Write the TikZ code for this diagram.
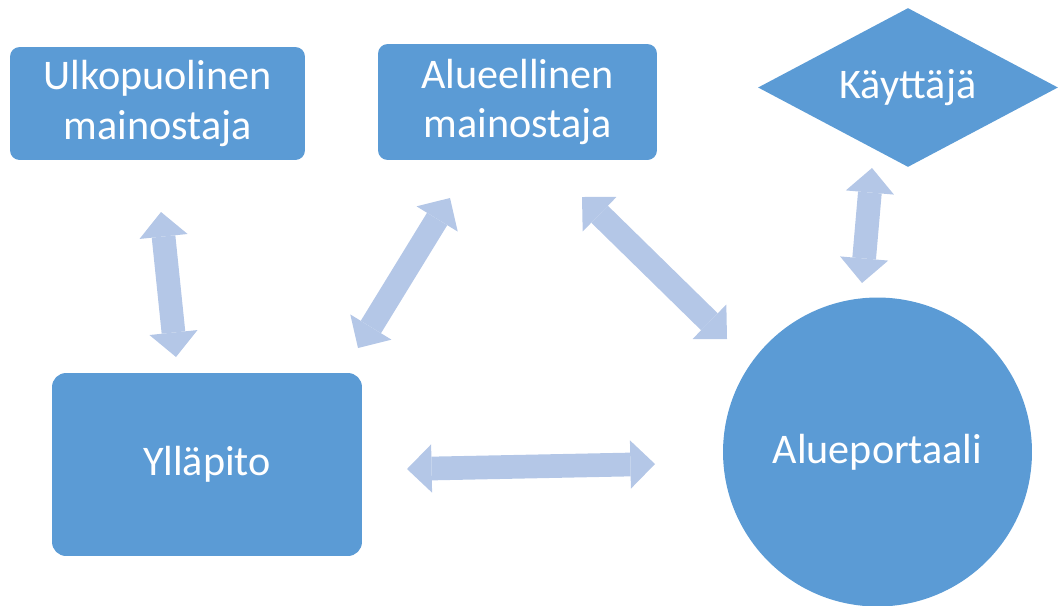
\documentclass[tikz,border=0pt]{standalone}
\usepackage{fontspec}
\setmainfont{Carlito}
\usetikzlibrary{arrows.meta}
\usetikzlibrary{shapes.geometric}

\definecolor{azulcaja}{HTML}{5B9BD5}
\definecolor{azulflecha}{HTML}{B4C7E7}

\begin{document}
\begin{tikzpicture}[x=0.02cm,y=-0.02cm,
	caja/.style={fill=azulcaja,text=white,font=\fontsize{24}{28}\selectfont,align=center,inner sep=0pt},
	punta/.tip={Triangle[width=27.5pt,length=14pt,line width=0pt]},
	flecha/.style={draw=azulflecha,line width=13.5pt,punta-punta}]
	\useasboundingbox (0,0) rectangle (1060,605);
	\node[caja,rounded corners=5.5pt,minimum width=5.9cm,minimum height=2.26cm] (ulko) at (157.5,103.5) {Ulkopuolinen\\mainostaja};
	\node[caja,rounded corners=5.5pt,minimum width=5.58cm,minimum height=2.32cm] (alue) at (517.5,102) {Alueellinen\\mainostaja};
	\node[caja,diamond,aspect=1.9,minimum width=6cm,minimum height=3.18cm] (kayt) at (908,87.5) {Käyttäjä};
	\node[caja,rounded corners=8pt,minimum width=6.2cm,minimum height=3.66cm] (yllapito) at (207,464.5) {Ylläpito};
	\node[caja,circle,minimum size=6.18cm] (portaali) at (877.5,452) {Alueportaali};
	\coordinate (a1) at (161,212);
	\coordinate (a2) at (176,357);
	\coordinate (b1) at (450,198);
	\coordinate (b2) at (358,348);
	\coordinate (c1) at (582,197);
	\coordinate (c2) at (727,339);
	\coordinate (d1) at (407,469);
	\coordinate (d2) at (655,464);
	\coordinate (e1) at (872,168);
	\coordinate (e2) at (862,283);
	\draw[flecha] (a1) -- (a2);
	\draw[flecha] (b1) -- (b2);
	\draw[flecha] (c1) -- (c2);
	\draw[flecha] (d1) -- (d2);
	\draw[flecha] (e1) -- (e2);
\end{tikzpicture}
\end{document}
